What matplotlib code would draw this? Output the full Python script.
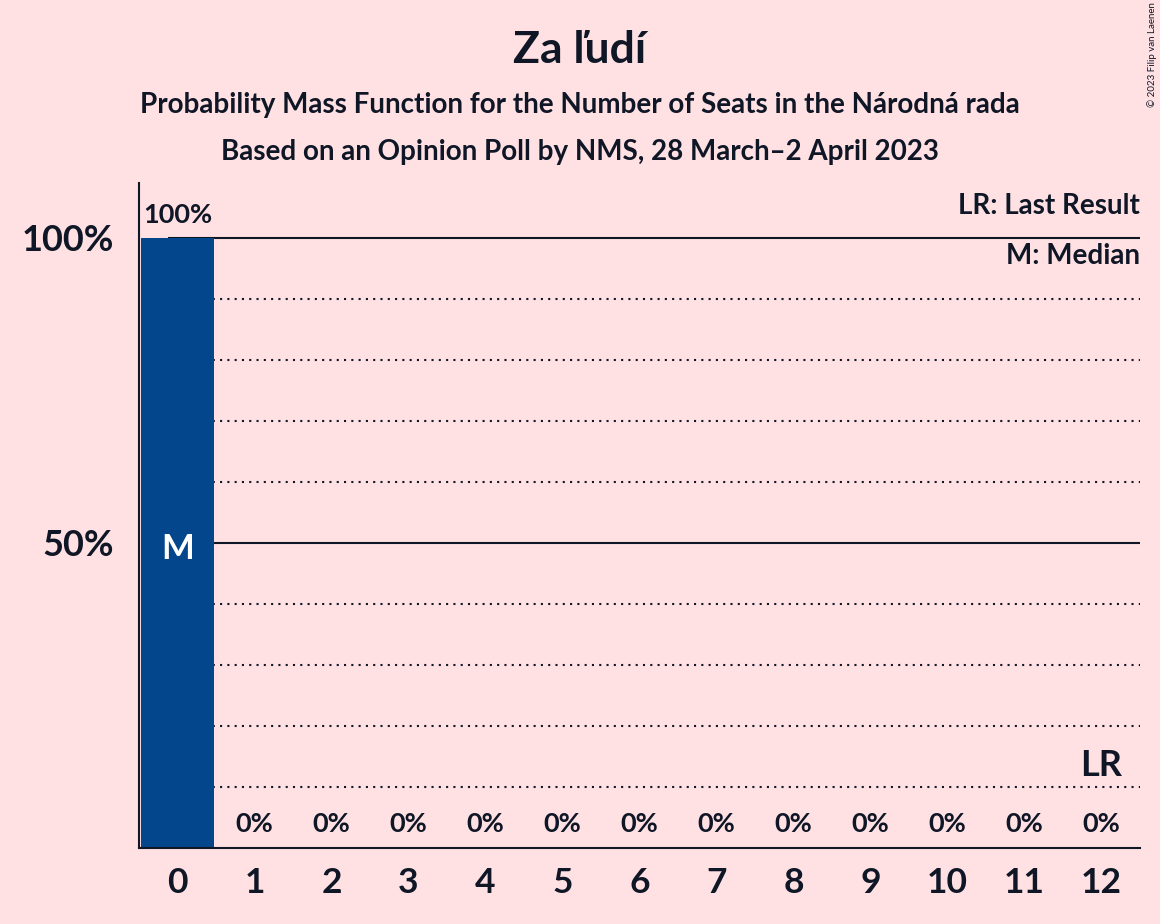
import matplotlib.pyplot as plt

seats = list(range(13))
probs = [100, 0, 0, 0, 0, 0, 0, 0, 0, 0, 0, 0, 0]
median_seat = 0
last_result_seat = 12

title = "Za ľudí"
subtitle1 = "Probability Mass Function for the Number of Seats in the Národná rada"
subtitle2 = "Based on an Opinion Poll by NMS, 28 March–2 April 2023"

bg = "#FFE1E3"
bar_color = "#03468C"
ink = "#0F1626"

plt.rcParams['font.family'] = ['Lato', 'DejaVu Sans']

fig = plt.figure(figsize=(11.6, 9.24), dpi=100, facecolor=bg)
ax = fig.add_axes([139 / 1160, 1 - 848 / 924, (1140 - 139) / 1160, (848 - 183) / 924])
ax.set_facecolor(bg)

ax.set_xlim(-0.5, 12.5)
ax.set_ylim(0, 109)

# grid lines, hidden behind the bars
for y in range(10, 101, 10):
    if y % 50 == 0:
        ax.axhline(y, xmin=0.03, color=ink, lw=1.5, zorder=1)
    else:
        ax.axhline(y, xmin=0.03, color=ink, lw=1.5, ls=(0, (1, 2.5)), zorder=1)

ax.bar(seats, probs, width=0.96, color=bar_color, zorder=2)

for s, p in zip(seats, probs):
    if p > 0:
        ax.text(s, p + 1.8, f"{p}%", ha='center', va='bottom', fontsize=19.5,
                fontweight='bold', color=ink)
    else:
        ax.text(s, 2.0, f"{p}%", ha='center', va='bottom', fontsize=19.5,
                fontweight='bold', color=ink)

ax.text(median_seat, probs[median_seat] / 2 - 1.0, "M", ha='center', va='center',
        fontsize=25, fontweight='bold', color='white')
ax.text(last_result_seat, 10.8, "LR", ha='center', va='bottom', fontsize=26,
        fontweight='bold', color=ink)

ax.text(1.0, 0.985, "LR: Last Result", transform=ax.transAxes, ha='right', va='top',
        fontsize=20, fontweight='bold', color=ink)
ax.text(1.0, 0.91, "M: Median", transform=ax.transAxes, ha='right', va='top',
        fontsize=20, fontweight='bold', color=ink)

ax.set_xticks(seats)
ax.set_xticklabels([str(s) for s in seats], fontsize=25.5, fontweight='bold', color=ink)
ax.set_yticks([50, 100])
ax.set_yticklabels(["50%", "100%"], fontsize=26, fontweight='bold', color=ink)
ax.tick_params(length=0, pad=14)
ax.tick_params(axis='y', pad=18)

for side in ['top', 'right']:
    ax.spines[side].set_visible(False)
ax.spines['left'].set_color(ink)
ax.spines['bottom'].set_color(ink)
ax.spines['left'].set_linewidth(1.5)
ax.spines['bottom'].set_linewidth(1.5)

fig.text(0.5, 1 - 50 / 924, title, ha='center', va='center', fontsize=32,
         fontweight='bold', color=ink)
fig.text(0.5, 1 - 105 / 924, subtitle1, ha='center', va='center', fontsize=20,
         fontweight='bold', color=ink)
fig.text(0.5, 1 - 152 / 924, subtitle2, ha='center', va='center', fontsize=20,
         fontweight='bold', color=ink)
fig.text(1152 / 1160, 1 - 55 / 924, "© 2023 Filip van Laenen", rotation=90,
         ha='center', va='center', fontsize=7, color=ink)

fig.savefig("out.png", dpi=100, facecolor=bg)
